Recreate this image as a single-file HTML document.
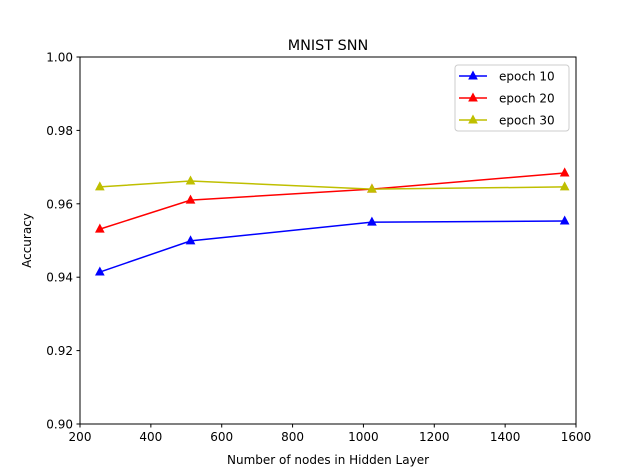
<!DOCTYPE html>
<html><head><meta charset="utf-8"><style>
html,body{margin:0;padding:0;background:#fff;}
svg{display:block;font-family:"DejaVu Sans","Liberation Sans",sans-serif;}
</style></head><body>
<svg id="chart" width="640" height="476" viewBox="0 0 640 476">
<rect x="0" y="0" width="640" height="476" fill="#fff"/>
<text x="328" y="50" text-anchor="middle" font-size="14.4" fill="#000">MNIST SNN</text>
<g id="plot"></g>
<rect x="80" y="57" width="496" height="367" fill="none" stroke="#000" stroke-width="1"/>
<text x="328" y="464" text-anchor="middle" font-size="12">Number of nodes in Hidden Layer</text>
<text transform="translate(31,240.5) rotate(-90)" text-anchor="middle" font-size="12">Accuracy</text>
<g id="legend">
<rect x="455" y="65" width="114" height="66" rx="3" fill="#fff" fill-opacity="0.8" stroke="#ccc"/>
</g>
</svg>
<script>
const xValues = [256, 512, 1024, 1568];
const seriesNames = ["epoch 10", "epoch 20", "epoch 30"];
const epoch10 = [0.9414, 0.9499, 0.9550, 0.9553];
const epoch20 = [0.9531, 0.9610, 0.9640, 0.9684];
const epoch30 = [0.9646, 0.9662, 0.9640, 0.9646];
const xTicks = [200, 400, 600, 800, 1000, 1200, 1400, 1600];
const yTicks = [0.90, 0.92, 0.94, 0.96, 0.98, 1.00];

const NS = "http://www.w3.org/2000/svg";
const X0 = 80, X1 = 576, Y0 = 424, Y1 = 57;
const xs = v => X0 + (v - 200) / 1400 * (X1 - X0);
const ys = v => Y0 - (v - 0.90) / 0.10 * (Y0 - Y1);
const plot = document.getElementById("plot");
function mk(tag, attrs, parent) {
  const e = document.createElementNS(NS, tag);
  for (const k in attrs) e.setAttribute(k, attrs[k]);
  (parent || plot).appendChild(e);
  return e;
}
xTicks.forEach(t => {
  const x = xs(t);
  const l = mk("line", {x1: x, x2: x, y1: Y0, y2: Y0 + 3.5, stroke: "#000"});
  
  
  const tx = mk("text", {x: x, y: Y0 + 17, "text-anchor": "middle", "font-size": 12});
  tx.textContent = t;
  
  
});
yTicks.forEach(t => {
  const y = ys(t);
  const l = mk("line", {x1: X0 - 3.5, x2: X0, y1: y, y2: y, stroke: "#000"});
  
  
  const tx = mk("text", {x: X0 - 7, y: y + 4.5, "text-anchor": "end", "font-size": 12});
  tx.textContent = t.toFixed(2);
  
  
});
const colors = ["#0000ff", "#ff0000", "#bfbf00"];
const data = [epoch10, epoch20, epoch30];
function tri(cx, cy, c, parent) {
  return mk("polygon", {points: `${cx},${cy-4.5} ${cx-4},${cy+3} ${cx+4},${cy+3}`, fill: c, stroke: c}, parent);
}
data.forEach((s, i) => {
  const pts = s.map((v, j) => xs(xValues[j]) + "," + ys(v)).join(" ");
  const pl = mk("polyline", {points: pts, fill: "none", stroke: colors[i], "stroke-width": 1.5});
  
  
  s.forEach((v, j) => {
    const m = tri(xs(xValues[j]), ys(v), colors[i]);
    
    
  });
  const lg = document.getElementById("legend");
  const ly = 76 + i * 22;
  const ll = mk("line", {x1: 459, x2: 487, y1: ly, y2: ly, stroke: colors[i], "stroke-width": 1.5}, lg);
  
  
  const lm = tri(473, ly, colors[i], lg);
  
  
  const lt = mk("text", {x: 499, y: ly + 4.5, "font-size": 12}, lg);
  lt.textContent = seriesNames[i];
  
  
});
</script>
</body></html>
